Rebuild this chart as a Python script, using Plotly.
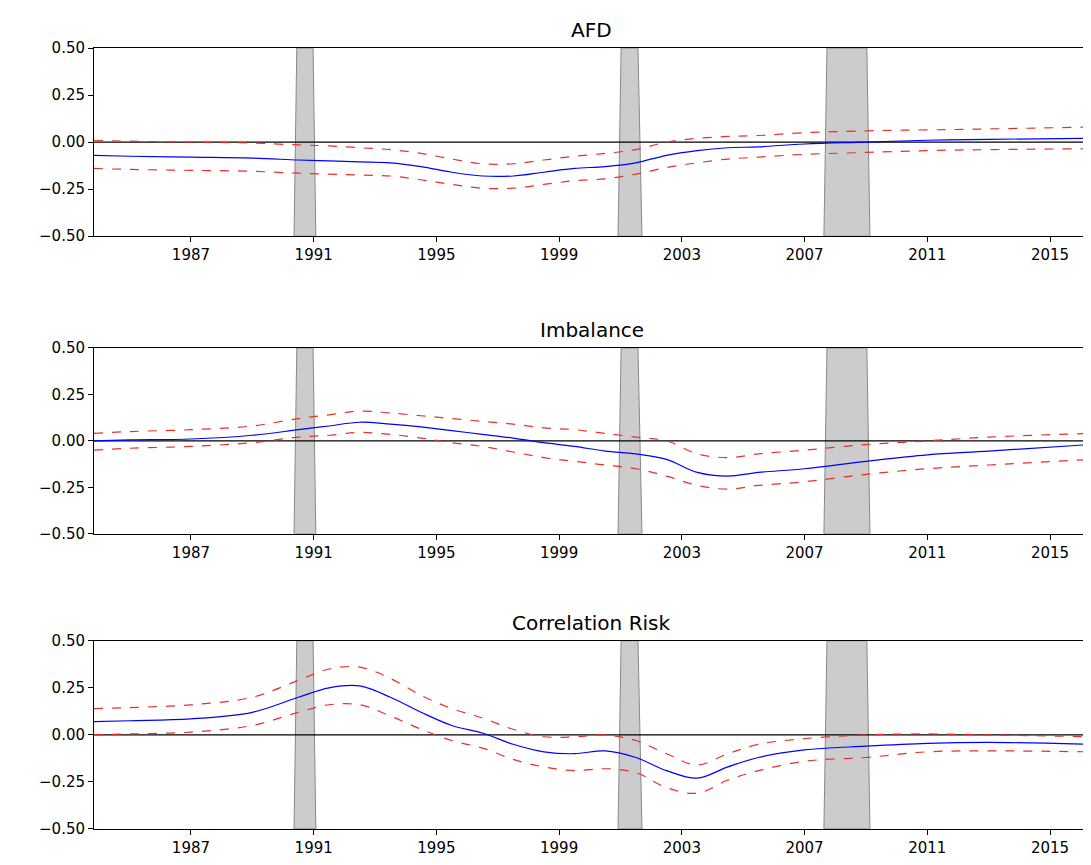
import plotly.graph_objects as go

years = [1983.84, 1985, 1987, 1989, 1990.5, 1991.5, 1992.5, 1993.5, 1994.5, 1995.5, 1996.5, 1997.5,
         1998.5, 1999.5, 2000.5, 2001.5, 2002.5, 2003.5, 2004.5, 2005.5, 2007, 2009, 2011, 2013, 2016.3]

afd_mid = [-0.07,-0.075,-0.08,-0.085,-0.095,-0.10,-0.105,-0.11,-0.13,-0.16,-0.18,-0.18,-0.16,-0.14,-0.13,-0.11,-0.07,-0.045,-0.03,-0.025,-0.01,0.0,0.01,0.015,0.02]
afd_up  = [0.01,0.005,0.0,-0.005,-0.015,-0.02,-0.03,-0.04,-0.06,-0.09,-0.115,-0.115,-0.095,-0.075,-0.06,-0.04,0.0,0.02,0.03,0.035,0.05,0.06,0.065,0.07,0.08]
afd_lo  = [-0.14,-0.145,-0.15,-0.155,-0.165,-0.17,-0.175,-0.18,-0.2,-0.225,-0.245,-0.245,-0.225,-0.205,-0.195,-0.17,-0.135,-0.11,-0.09,-0.08,-0.065,-0.055,-0.045,-0.04,-0.035]

imb_mid = [0.0,0.005,0.01,0.03,0.06,0.08,0.10,0.09,0.075,0.055,0.035,0.015,-0.01,-0.03,-0.055,-0.07,-0.10,-0.17,-0.19,-0.17,-0.15,-0.11,-0.075,-0.055,-0.02]
imb_up  = [0.04,0.05,0.06,0.08,0.12,0.14,0.16,0.15,0.135,0.12,0.105,0.09,0.07,0.06,0.04,0.02,0.0,-0.07,-0.09,-0.07,-0.05,-0.02,0.0,0.02,0.04]
imb_lo  = [-0.05,-0.04,-0.03,-0.01,0.02,0.03,0.045,0.035,0.015,-0.01,-0.03,-0.06,-0.09,-0.11,-0.13,-0.15,-0.19,-0.24,-0.26,-0.24,-0.22,-0.18,-0.15,-0.13,-0.1]

cor_mid = [0.07,0.075,0.085,0.12,0.2,0.25,0.26,0.2,0.12,0.05,0.01,-0.05,-0.09,-0.10,-0.085,-0.12,-0.19,-0.23,-0.17,-0.12,-0.08,-0.06,-0.045,-0.04,-0.05]
cor_up  = [0.14,0.145,0.16,0.2,0.29,0.35,0.36,0.3,0.21,0.14,0.09,0.03,-0.01,-0.01,0.0,-0.03,-0.1,-0.16,-0.1,-0.05,-0.02,0.0,0.005,0.0,-0.01]
cor_lo  = [0.0,0.005,0.015,0.05,0.12,0.16,0.16,0.1,0.03,-0.03,-0.07,-0.13,-0.17,-0.19,-0.18,-0.2,-0.28,-0.31,-0.24,-0.19,-0.14,-0.12,-0.09,-0.085,-0.09]

rec_bot = [(1990.36, 1991.07), (2000.92, 2001.70), (2007.63, 2009.13)]
rec_top = [(1990.45, 1990.98), (2001.02, 2001.57), (2007.73, 2009.03)]

titles = ["AFD", "Imbalance", "Correlation Risk"]
panels = [(afd_mid, afd_up, afd_lo), (imb_mid, imb_up, imb_lo), (cor_mid, cor_up, cor_lo)]
domains = [[0.759, 1.0], [0.378, 0.616], [0.0, 0.241]]
tickyears = [1987, 1991, 1995, 1999, 2003, 2007, 2011, 2015]

fig = go.Figure()
for i, (mid, up, lo) in enumerate(panels):
    xa = "x" if i == 0 else f"x{i+1}"
    ya = "y" if i == 0 else f"y{i+1}"
    for (b0, b1), (t0, t1) in zip(rec_bot, rec_top):
        fig.add_trace(go.Scatter(x=[b0, t0, t1, b1, b0], y=[-0.5, 0.5, 0.5, -0.5, -0.5],
                                 fill="toself", fillcolor="#cccccc", mode="lines",
                                 line=dict(color="#888888", width=1), xaxis=xa, yaxis=ya,
                                 showlegend=False, hoverinfo="skip"))
    fig.add_trace(go.Scatter(x=[years[0], years[-1]], y=[0, 0], mode="lines",
                             line=dict(color="black", width=1.2), xaxis=xa, yaxis=ya, showlegend=False))
    fig.add_trace(go.Scatter(x=years, y=mid, mode="lines", line=dict(color="blue", width=1.2, shape="spline"),
                             xaxis=xa, yaxis=ya, showlegend=False))
    for s in (up, lo):
        fig.add_trace(go.Scatter(x=years, y=s, mode="lines",
                                 line=dict(color="#e8302a", width=1.2, dash="dash", shape="spline"),
                                 xaxis=xa, yaxis=ya, showlegend=False))
    axk = "xaxis" if i == 0 else f"xaxis{i+1}"
    ayk = "yaxis" if i == 0 else f"yaxis{i+1}"
    fig.layout[axk] = dict(domain=[0, 1], anchor=ya, range=[1983.84, 2016.27],
                           tickvals=tickyears, ticks="outside", showgrid=False, zeroline=False,
                           showline=True, mirror=True, linecolor="black", tickcolor="black")
    fig.layout[ayk] = dict(domain=domains[i], anchor=xa, range=[-0.5, 0.5],
                           tickvals=[-0.5, -0.25, 0, 0.25, 0.5],
                           ticktext=["−0.50", "−0.25", "0.00", "0.25", "0.50"],
                           ticks="outside", showgrid=False, zeroline=False,
                           showline=True, mirror=True, linecolor="black", tickcolor="black")
    fig.add_annotation(text=titles[i], x=0.5, y=domains[i][1], xref="paper", yref="paper",
                       xanchor="center", yanchor="bottom", yshift=4, showarrow=False,
                       font=dict(size=20, color="black"))

fig.update_layout(width=1091, height=865, margin=dict(l=86, r=10, t=40, b=44),
                  plot_bgcolor="white", paper_bgcolor="white",
                  font=dict(family="DejaVu Sans", size=15, color="black"))
fig.write_html("out.html")
